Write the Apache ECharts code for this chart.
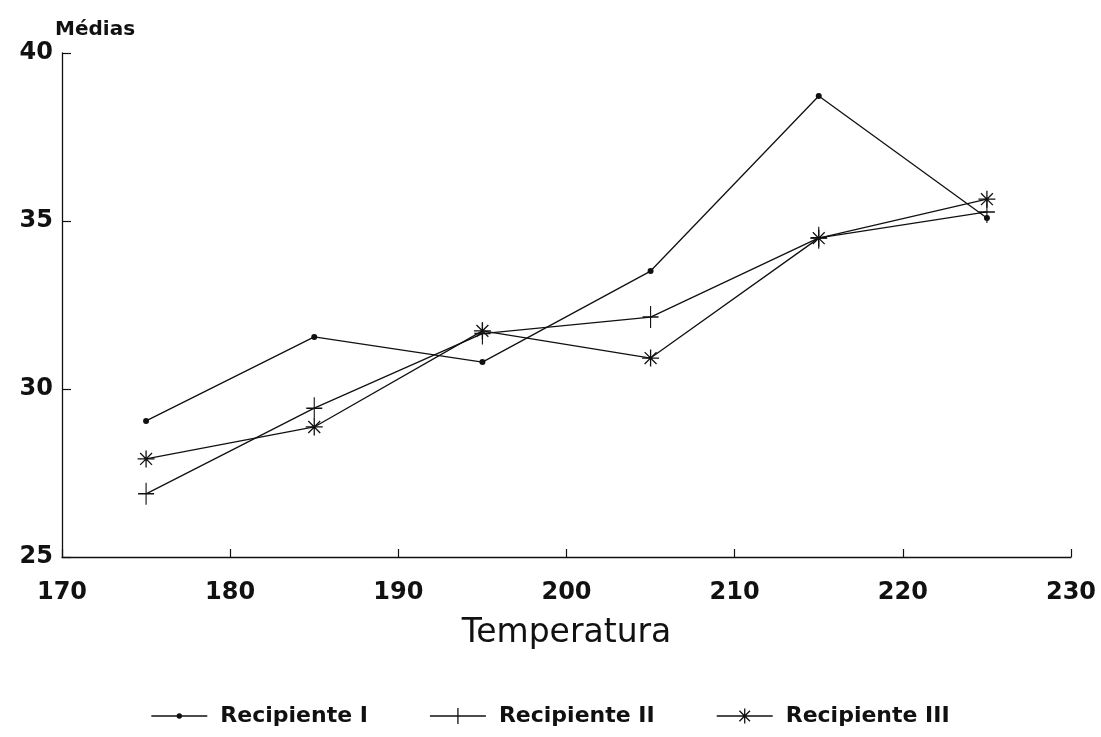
<!DOCTYPE html>
<html>
<head>
<meta charset="utf-8">
<script src="https://cdn.jsdelivr.net/npm/echarts@6/dist/echarts.min.js"></script>
<style>html,body{margin:0;padding:0;background:#fff}#c{width:1101px;height:737px}</style>
</head>
<body>
<div id="c"></div>
<script>
const temperaturas = [175, 185, 195, 205, 215, 225];
const recipienteI = [29.05, 31.55, 30.80, 33.51, 38.72, 35.09];
const recipienteII = [26.88, 29.43, 31.65, 32.14, 34.50, 35.27];
const recipienteIII = [27.92, 28.87, 31.73, 30.92, 34.49, 35.65];
const seriesNames = ['Recipiente I', 'Recipiente II', 'Recipiente III'];
const xTicks = [170, 180, 190, 200, 210, 220, 230];
const yTicks = [25, 30, 35, 40];

const font = '"DejaVu Sans", Verdana, sans-serif';
const plus = 'path://M8,0L8,22M0,11L16,11';
const star = 'path://M10,0L10,20M0,10L20,10M3,3L17,17M3,17L17,3';

// legend icons (56 x 18 box): line + small marker, drawn as filled shapes
function legendIcon(kind){
  const W = 56, H = 18, cy = 9, cx = 28, t = 0.65;
  let p = `M0,${cy-t}L${W},${cy-t}L${W},${cy+t}L0,${cy+t}Z`;
  p += `M0,0L0.01,0L0.01,0.01ZM${W},${H}L${W-0.01},${H}L${W-0.01},${H-0.01}Z`;
  if (kind === 0) {
    const r = 2.8;
    for (let k = 0; k <= 12; k++) {
      const a = k * Math.PI / 6;
      p += (k === 0 ? 'M' : 'L') + `${(cx + r*Math.cos(a)).toFixed(2)},${(cy + r*Math.sin(a)).toFixed(2)}`;
    }
    p += 'Z';
  } else if (kind === 1) {
    p += `M${cx-t},${cy-8}L${cx+t},${cy-8}L${cx+t},${cy+8}L${cx-t},${cy+8}Z`;
  } else {
    const L = 7.5;
    for (let k = 0; k < 4; k++) {
      const a = k * Math.PI / 4;
      const dx = Math.cos(a) * L, dy = Math.sin(a) * L;
      const nx = -Math.sin(a) * t, ny = Math.cos(a) * t;
      p += `M${cx-dx-nx},${cy-dy-ny}L${cx+dx-nx},${cy+dy-ny}L${cx+dx+nx},${cy+dy+ny}L${cx-dx+nx},${cy-dy+ny}Z`;
    }
  }
  return 'path://' + p;
}

function pairs(vals){ return temperaturas.map((t,i)=>[t, vals[i]]); }

const chart = echarts.init(document.getElementById('c'), null, {renderer:'canvas'});
const lineStyle = {color:'#111', width:1.3};
chart.setOption({
  animation:false,
  backgroundColor:'#fff',
  title:{text:'Médias', left:50, top:15, textStyle:{fontFamily:font, fontSize:20, fontWeight:'bold', color:'#111'}},
  grid:{left:62, right:30, top:53, bottom:180},
  xAxis:{
    type:'value', min:xTicks[0], max:xTicks[xTicks.length-1], interval:10,
    name:'Temperatura', nameLocation:'middle', nameGap:60,
    nameTextStyle:{fontFamily:font, fontSize:33, color:'#111'},
    axisLine:{lineStyle:{color:'#111', width:1.3}},
    axisTick:{inside:true, length:8, lineStyle:{color:'#111', width:1.2}},
    axisLabel:{fontFamily:font, fontSize:24, fontWeight:'bold', color:'#111', margin:24},
    splitLine:{show:false}
  },
  yAxis:{
    type:'value', min:yTicks[0], max:yTicks[yTicks.length-1], interval:5,
    axisLine:{show:true, lineStyle:{color:'#111', width:1.3}},
    axisTick:{show:true, inside:true, length:9, lineStyle:{color:'#111', width:1.2}},
    axisLabel:{fontFamily:font, fontSize:24, fontWeight:'bold', color:'#111', margin:9},
    splitLine:{show:false}
  },
  legend:{
    bottom:5, left:'center', itemWidth:56, itemHeight:18, itemGap:62,
    textStyle:{fontFamily:font, fontSize:22, fontWeight:'bold', color:'#111', padding:[0,0,0,8]},
    data:seriesNames.map((n,i)=>({name:n, icon:legendIcon(i), itemStyle:{color:'#111', borderWidth:0}}))
  },
  series:[
    {name:seriesNames[0], type:'line', data:pairs(recipienteI), symbol:'circle', symbolSize:6,
     itemStyle:{color:'#111', borderColor:'#111', borderWidth:0}, lineStyle:lineStyle},
    {name:seriesNames[1], type:'line', data:pairs(recipienteII), symbol:plus, symbolSize:[16,22],
     itemStyle:{color:'#111', borderColor:'#111', borderWidth:1.3}, lineStyle:lineStyle},
    {name:seriesNames[2], type:'line', data:pairs(recipienteIII), symbol:star, symbolSize:17,
     itemStyle:{color:'#111', borderColor:'#111', borderWidth:1.3}, lineStyle:lineStyle}
  ]
});
</script>
</body>
</html>
